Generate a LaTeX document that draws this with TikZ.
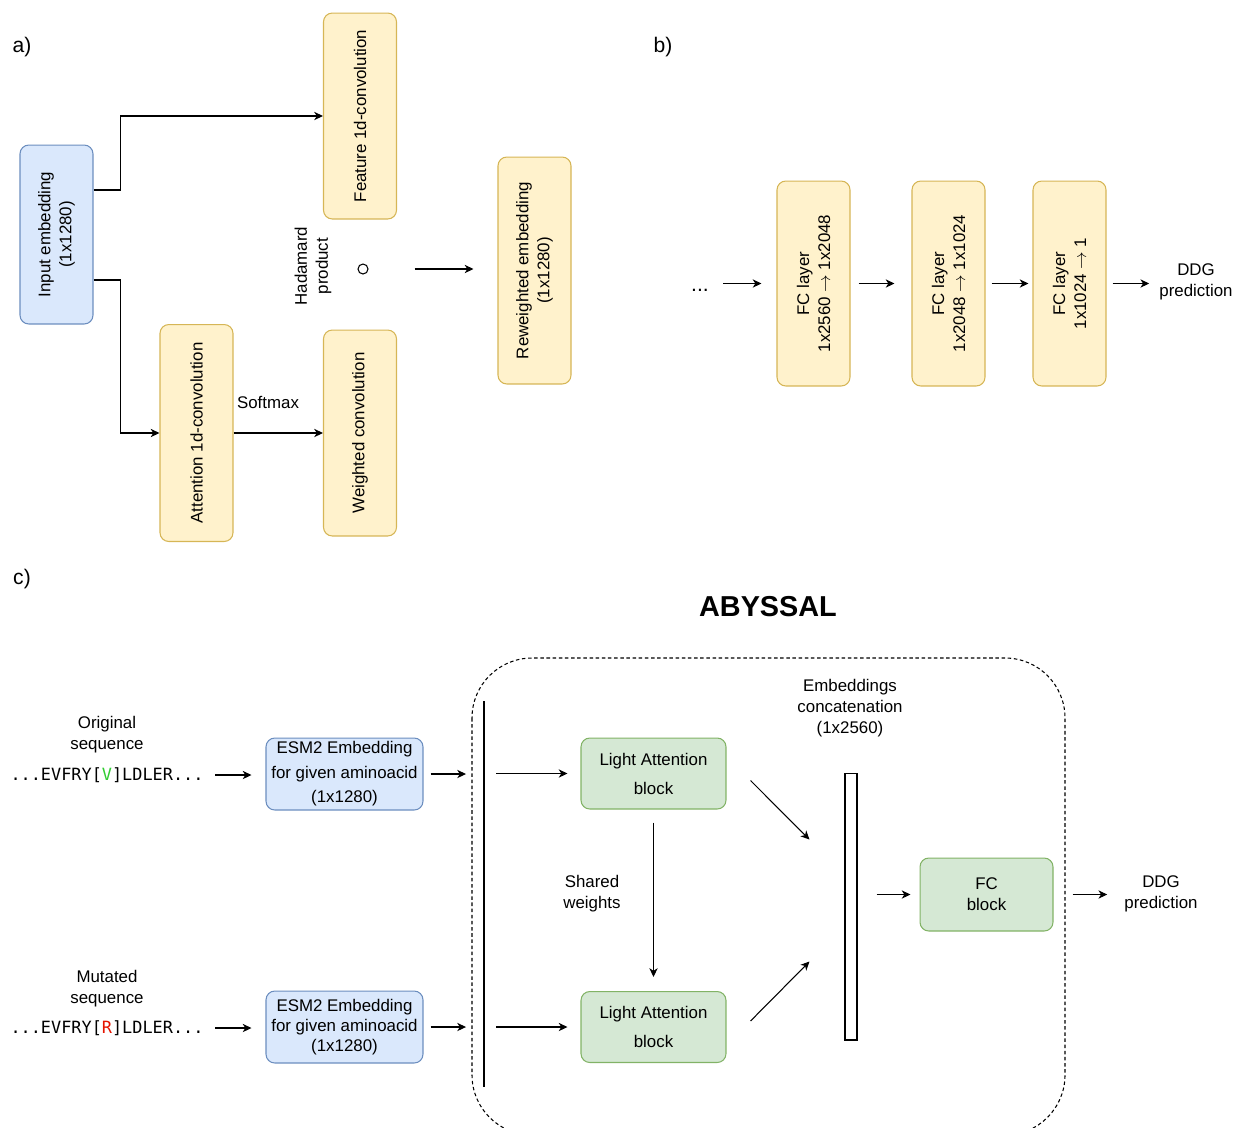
\documentclass[tikz,border=0pt]{standalone}
\usepackage{fontspec}
\setmainfont{Liberation Sans}
\newfontfamily\seqfont{DejaVu Sans Mono}
\usetikzlibrary{arrows.meta, positioning, calc}
\definecolor{boxblue}{HTML}{DAE8FC}
\definecolor{lineblue}{HTML}{6C8EBF}
\definecolor{boxyellow}{HTML}{FFF2CC}
\definecolor{lineyellow}{HTML}{D6B656}
\definecolor{boxgreen}{HTML}{D5E8D4}
\definecolor{linegreen}{HTML}{82B366}
\definecolor{seqgreen}{HTML}{33CC33}
\definecolor{seqred}{HTML}{E51400}
\newcommand{\dfont}{\fontsize{9.6}{12}\selectfont}

\begin{document}
\begin{tikzpicture}[x=0.02cm, y=-0.02cm,
    every node/.style={font=\dfont, align=center},
    block/.style={rounded corners=5pt, fill=box#1, draw=line#1, line width=0.6pt, inner sep=2pt},
    vblock/.style={block=#1, rotate=90, minimum height=1.46cm},
    flow/.style={-{Stealth[length=5pt, width=4.7pt, inset=1.5pt]}, line width=0.6pt},
    panel/.style={font=\fontsize{12}{14}\selectfont},
]
    \clip (0,0) rectangle (1236,1127);

    % === a) ===
    \node[panel] (pa) at (22,47) {a)};
    \node[vblock=blue, minimum width=3.58cm] (inp) at (56.5,234.5) {Input embedding\\(1x1280)};
    \node[vblock=yellow, minimum width=4.12cm] (feat) at (360,116) {Feature 1d-convolution};
    \node[vblock=yellow, minimum width=4.34cm] (att) at (196.5,433) {Attention 1d-convolution};
    \node[vblock=yellow, minimum width=4.12cm] (wconv) at (360,433) {Weighted convolution};
    \node[vblock=yellow, minimum width=4.54cm] (rew) at (534.5,270.5) {Reweighted embedding\\(1x1280)};
    \node[rotate=90] (hadtxt) at (313,266) {Hadamard\\product};
    \node[circle, draw, line width=0.6pt, inner sep=0pt, minimum size=0.2cm] (had) at (363,269) {};
    \node (smax) at (268,402) {Softmax};

    \draw[flow] ([shift={(0,-44.5)}]inp.south) -- ++(27,0) |- (feat.north);
    \draw[flow] ([shift={(0,45.5)}]inp.south) -- ++(27,0) |- (att.north);
    \draw[flow] (att.south) -- (wconv.north);
    \draw[flow, shorten <=0.92cm, shorten >=0.48cm] (had.east) -- (had.east -| rew.north);

    % === b) ===
    \node[panel] (pb) at (663,47) {b)};
    \node[font=\fontsize{12}{14}\selectfont] (dots) at (700,290) {...};
    \node[vblock=yellow, minimum width=4.1cm] (fc1) at (813.5,283.5) {FC layer\\1x2560 $\rightarrow$ 1x2048};
    \node[vblock=yellow, minimum width=4.1cm] (fc2) at (948.5,283.5) {FC layer\\1x2048 $\rightarrow$ 1x1024};
    \node[vblock=yellow, minimum width=4.1cm] (fc3) at (1069.5,283.5) {FC layer\\1x1024 $\rightarrow$ 1};
    \node (ddg1) at (1196,282) {DDG\\prediction};

    \draw[flow, shorten <=0.16cm, shorten >=0.3cm] (dots.east |- fc1.north) -- (fc1.north);
    \draw[flow, shorten <=0.16cm, shorten >=0.34cm] (fc1.south) -- (fc2.north);
    \draw[flow, shorten <=0.12cm, shorten >=0.08cm] (fc2.south) -- (fc3.north);
    \draw[flow, shorten <=0.12cm, shorten >=0.08cm] (fc3.south) -- (fc3.south -| ddg1.west);

    % === c) ===
    \node[panel] (pc) at (22,579) {c)};
    \node[font=\fontsize{16.4}{19}\selectfont\bfseries] (title) at (768,607) {ABYSSAL};
    \draw[dashed, dash pattern=on 2pt off 1.5pt, line width=0.6pt, rounded corners=1.2cm]
        (472,658) rectangle (1065,1135);

    \node (orig) at (107,735) {Original\\sequence};
    \node (seq1) at (107,775) {\seqfont ...EVFRY[\textcolor{seqgreen}{V}]LDLER...};
    \node (mut) at (107,989) {Mutated\\sequence};
    \node (seq2) at (107,1028) {\seqfont ...EVFRY[\textcolor{seqred}{R}]LDLER...};

    \node[block=blue, minimum width=3.14cm, minimum height=1.44cm, font=\fontsize{9.6}{14}\selectfont]
        (esm1) at (344.5,774) {ESM2 Embedding\\for given aminoacid\\(1x1280)};
    \node[block=blue, minimum width=3.14cm, minimum height=1.44cm, font=\fontsize{9.6}{11.6}\selectfont]
        (esm2) at (344.5,1027) {ESM2 Embedding\\for given aminoacid\\(1x1280)};

    \coordinate (barT) at (484,701);
    \coordinate (barB) at (484,1087);
    \draw[line width=0.8pt] (barT) -- (barB);

    \node[block=green, minimum width=2.9cm, minimum height=1.42cm, font=\fontsize{9.6}{16.5}\selectfont]
        (la1) at (653.5,773.5) {Light Attention\\block};
    \node[block=green, minimum width=2.9cm, minimum height=1.42cm, font=\fontsize{9.6}{16.5}\selectfont]
        (la2) at (653.5,1027) {Light Attention\\block};
    \node (shared) at (592,894) {Shared\\weights};

    \node[draw, fill=white, line width=0.6pt, minimum width=0.24cm, minimum height=5.34cm, inner sep=0pt]
        (concat) at (851,906.5) {};
    \node (concattxt) at (850,708) {Embeddings\\concatenation\\(1x2560)};

    \node[block=green, minimum width=2.66cm, minimum height=1.46cm] (fcb) at (986.5,894.5) {FC\\block};
    \node (ddg2) at (1161,894) {DDG\\prediction};

    \draw[flow, shorten <=0.11cm, shorten >=0.28cm] (seq1.east) -- (seq1.east -| esm1.west);
    \draw[flow, shorten <=0.11cm, shorten >=0.28cm] (seq2.east) -- (seq2.east -| esm2.west);
    \draw[flow, shorten <=0.14cm, shorten >=0.36cm] (esm1.east) -- (esm1.east -| barT);
    \draw[flow, shorten <=0.14cm, shorten >=0.36cm] (esm2.east) -- (esm2.east -| barT);
    \draw[flow, shorten <=0.24cm, shorten >=0.26cm] (la1.west -| barT) -- (la1.west);
    \draw[flow, shorten <=0.24cm, shorten >=0.26cm] (la2.west -| barT) -- (la2.west);
    \draw[flow, shorten <=0.26cm, shorten >=0.28cm] (la1.south) -- (la2.north);
    \draw[flow] ([shift={(24,7)}]la1.east) -- ([shift={(-35,67)}]concat.north west);
    \draw[flow] ([shift={(24,-6)}]la2.east) -- ([shift={(-35,-79)}]concat.south west);
    \draw[flow, shorten <=0.38cm, shorten >=0.18cm] (concat.east |- fcb.west) -- (fcb.west);
    \draw[flow, shorten <=0.38cm, shorten >=0.22cm] (fcb.east) -- (fcb.east -| ddg2.west);
\end{tikzpicture}
\end{document}
